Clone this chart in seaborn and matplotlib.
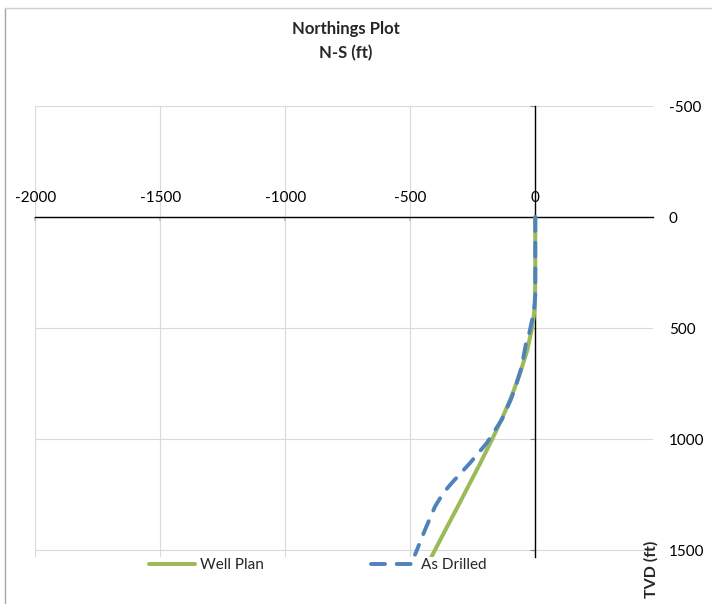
import matplotlib
matplotlib.use("Agg")
import matplotlib.pyplot as plt
import seaborn as sns
import pandas as pd
from matplotlib.lines import Line2D

# Well plan survey: true vertical depth (ft) and north-south offset (ft)
plan_tvd = [0, 300, 400, 450, 500, 600, 700, 800, 900, 1000, 1100, 1200, 1300, 1400, 1530]
plan_ns = [0, 0, -2, -6, -13, -32, -60, -92, -130, -172, -216, -262, -308, -355, -415]

# As-drilled survey stations
drilled_tvd = [0, 350, 400, 450, 523, 568, 673, 748, 823, 913, 1018, 1108, 1198, 1243, 1304, 1409, 1521]
drilled_ns = [0, 0, -3, -10, -24, -37, -54, -74, -98, -134, -194, -261, -334, -368, -401, -441, -481]

x_ticks = [-2000, -1500, -1000, -500, 0]
y_ticks = [-500, 0, 500, 1000, 1500]

GREEN = "#9BBB59"
BLUE = "#4F81BD"
GRID = "#D9D9D9"

sns.set_theme(style="white")
plt.rcParams["font.family"] = ["Lato", "DejaVu Sans"]
plt.rcParams["axes.unicode_minus"] = False

W, H = 712, 604
fig = plt.figure(figsize=(W / 100, H / 100), dpi=100)
fig.patch.set_facecolor("white")

left, right, top, bottom = 35.3, 653.0, 106.0, 556.7
ax = fig.add_axes([left / W, 1 - bottom / H, (right - left) / W, (bottom - top) / H])
ax.set_facecolor("white")

plan = pd.DataFrame({"N-S": plan_ns, "TVD": plan_tvd})
drilled = pd.DataFrame({"N-S": drilled_ns, "TVD": drilled_tvd})

sns.lineplot(data=plan, x="N-S", y="TVD", sort=False, estimator=None,
             color=GREEN, linewidth=2.9, ax=ax, label="Well Plan", zorder=3)
sns.lineplot(data=drilled, x="N-S", y="TVD", sort=False, estimator=None,
             color=BLUE, linewidth=2.8, ax=ax, label="As Drilled", zorder=4)
dashed = ax.lines[-1]
dashed.set_dashes((3.6, 3.0))
dashed.set_dash_capstyle("round")

ax.set_xlim(-2000, 471)
ax.set_ylim(1530, -500)
ax.set_xticks(x_ticks)
ax.set_yticks(y_ticks)
ax.set_xticklabels([str(v) for v in x_ticks])
ax.set_yticklabels([str(v) for v in y_ticks])
ax.set_xlabel("")
ax.set_ylabel("")

# Gridlines
ax.set_axisbelow(True)
ax.grid(True, color=GRID, linewidth=0.8)

# Axis lines cross at the origin
for s in ("right", "bottom"):
    ax.spines[s].set_visible(False)
ax.spines["top"].set_position(("data", 0))
ax.spines["left"].set_position(("data", 0))
for s in ("top", "left"):
    ax.spines[s].set_color("black")
    ax.spines[s].set_linewidth(1.0)
    ax.spines[s].set_zorder(2.5)

ax.xaxis.set_ticks_position("top")
ax.tick_params(axis="x", top=True, bottom=False, labeltop=True, labelbottom=False,
               direction="in", length=3, color="#BFBFBF", pad=8.5,
               labelsize=11, labelcolor="black")
ax.yaxis.set_ticks_position("left")
ax.tick_params(axis="y", left=True, right=False, labelleft=False, labelright=True,
               direction="out", length=3.6, width=0.8, color="#868686", pad=7.9,
               labelsize=11, labelcolor="black")

# Legend along the bottom
handles, labels = ax.get_legend_handles_labels()
if ax.get_legend() is not None:
    ax.get_legend().remove()
fig.legend(handles, labels, loc="center", bbox_to_anchor=(318 / W, 1 - 565 / H),
           ncol=2, frameon=False, fontsize=11, handlelength=3.0, handletextpad=0.3,
           columnspacing=7.0, borderpad=0, borderaxespad=0)

# Titles and axis caption
fig.text(346 / W, 1 - 29 / H, "Northings Plot", ha="center", va="center",
         fontsize=12, fontweight="bold")
fig.text(346 / W, 1 - 53 / H, "N-S (ft)", ha="center", va="center",
         fontsize=12, fontweight="bold")
fig.text(651 / W, 1 - 569 / H, "TVD (ft)", ha="center", va="center", rotation=90,
         fontsize=11.5, fontweight="bold")

# Chart frame
fig.add_artist(Line2D([4.5 / W, 4.5 / W], [0, 1 - 8 / H], color="#A6A6A6",
                      linewidth=1.0, transform=fig.transFigure))
fig.add_artist(Line2D([4.5 / W, 1], [1 - 8 / H, 1 - 8 / H], color="#D0D0D0",
                      linewidth=1.0, transform=fig.transFigure))

fig.savefig("out.png", dpi=100, facecolor="white")
